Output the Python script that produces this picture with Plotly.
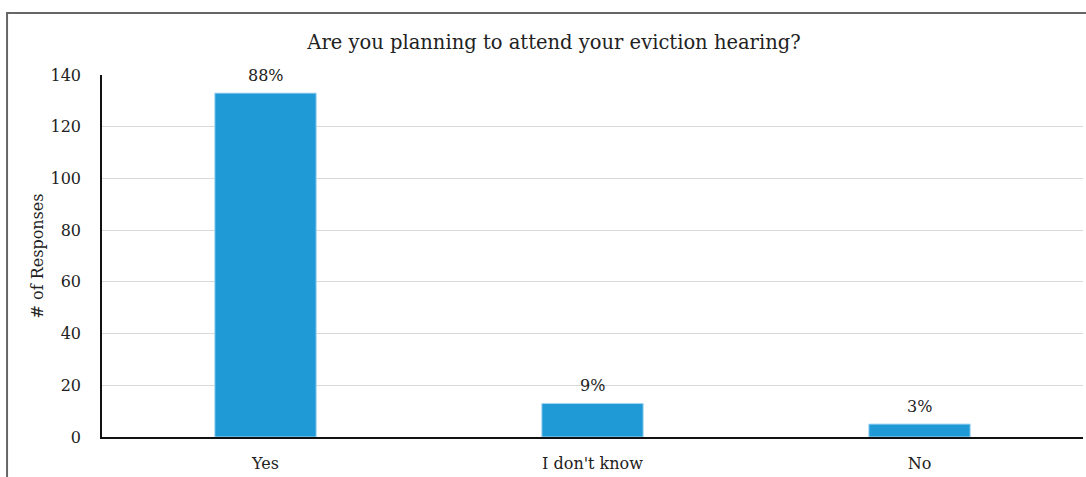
import plotly.graph_objects as go

categories = ["Yes", "I don't know", "No"]
responses = [133, 13, 5]
pct_labels = ["88%", "9%", "3%"]

W, H = 1086, 477
L, R, T, B = 102, 2.5, 75, 40
FONT = "DejaVu Serif"

fig = go.Figure()
fig.add_trace(go.Bar(
    x=categories, y=responses, width=0.31,
    marker=dict(color="#1f9ad6", line=dict(color="#a9d8f2", width=1)),
    hoverinfo="skip",
))

for c, v, t in zip(categories, responses, pct_labels):
    fig.add_annotation(x=c, y=v, text=t, showarrow=False, yanchor="bottom",
                       yshift=6, font=dict(family=FONT, size=16, color="#222"))

pw, ph = W - L - R, H - T - B
fig.add_shape(type="rect", xref="paper", yref="paper",
              x0=(7 - L) / pw, x1=1.2, y0=-0.3, y1=(H - B - 13) / ph,
              line=dict(color="#666666", width=2), layer="below")

fig.update_layout(
    width=W, height=H,
    margin=dict(l=L, r=R, t=T, b=B, pad=0),
    paper_bgcolor="white", plot_bgcolor="white",
    showlegend=False,
    font=dict(family=FONT, size=16, color="#222"),
    title=dict(text="Are you planning to attend your eviction hearing?",
               x=554 / W, xanchor="center", xref="container",
               y=1 - 42 / H, yanchor="middle", yref="container",
               font=dict(family=FONT, size=19.5, color="#222")),
    bargap=0.69,
)
fig.update_yaxes(range=[0, 140], dtick=20, showgrid=True, gridcolor="#d9d9d9",
                 gridwidth=1, showline=True, linecolor="#111", linewidth=1.5,
                 zeroline=False, ticks="", ticklabelstandoff=16,
                 tickfont=dict(family=FONT, size=16),
                 title=dict(text="# of Responses", standoff=3,
                            font=dict(family=FONT, size=16)))
fig.update_xaxes(showline=True, linecolor="#111", linewidth=1.5, ticks="",
                 ticklabelstandoff=11, showgrid=False,
                 tickfont=dict(family=FONT, size=16))

fig.write_html("out.html", config={"displayModeBar": False},
               post_script="document.body.style.margin='0px';")
